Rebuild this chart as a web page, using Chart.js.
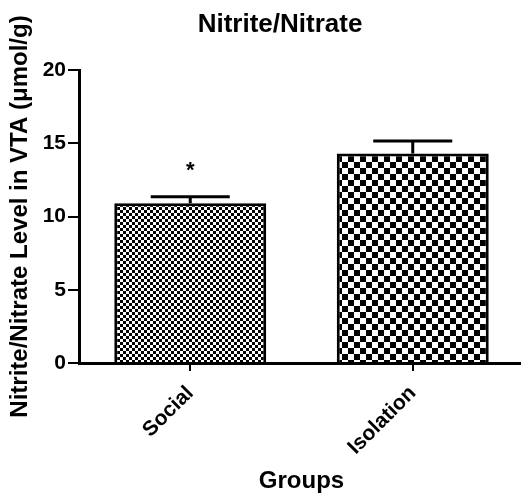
<!DOCTYPE html>
<html>
<head>
<meta charset="utf-8">
<script src="https://cdn.jsdelivr.net/npm/chart.js@4.4.1/dist/chart.umd.min.js"></script>
<style>
  html, body { margin: 0; padding: 0; background: #fff; overflow: hidden; }
  canvas { display: block; }
</style>
</head>
<body>
<canvas id="nitriteChart" width="524" height="496"></canvas>
<script>
// Values (mean + upper SEM)
const groups = ['Social', 'Isolation'];
const meanLevel = [10.9, 14.3];
const semLevel = [0.45, 0.85];
const significance = ['*', ''];
const yTicks = [0, 5, 10, 15, 20];

const FONT = '"Liberation Sans", Arial, Helvetica, sans-serif';

const canvas = document.getElementById('nitriteChart');
const ctx = canvas.getContext('2d');

// checkerboard fill, cell size in px
function checker(cell) {
    const tile = document.createElement('canvas');
    tile.width = tile.height = cell * 2;
    const g = tile.getContext('2d');
    g.fillStyle = '#fff';
    g.fillRect(0, 0, cell * 2, cell * 2);
    g.fillStyle = '#000';
    g.fillRect(0, 0, cell, cell);
    g.fillRect(cell, cell, cell, cell);
    return ctx.createPattern(tile, 'repeat');
}

// upper error bars + significance star
const errorBars = {
    id: 'errorBars',
    afterDatasetsDraw(chart) {
        const { ctx, scales: { y } } = chart;
        const meta = chart.getDatasetMeta(0);
        ctx.save();
        ctx.strokeStyle = '#000';
        ctx.fillStyle = '#000';
        ctx.lineWidth = 3;
        meta.data.forEach((bar, i) => {
            const base = y.getPixelForValue(meanLevel[i]);
            const top = y.getPixelForValue(meanLevel[i] + semLevel[i]);
            const half = bar.width * 0.26;
            ctx.beginPath();
            ctx.moveTo(bar.x, base);
            ctx.lineTo(bar.x, top);
            ctx.moveTo(bar.x - half, top);
            ctx.lineTo(bar.x + half, top);
            ctx.stroke();
            if (significance[i]) {
                ctx.font = `bold 22px ${FONT}`;
                ctx.textAlign = 'center';
                ctx.textBaseline = 'middle';
                ctx.fillText(significance[i], bar.x, top - 26);
            }
        });
        ctx.restore();
    }
};

// plot title
const plotTitle = {
    id: 'plotTitle',
    afterDraw(chart) {
        const c = chart.ctx;
        c.save();
        c.font = `bold 26px ${FONT}`;
        c.fillStyle = '#000';
        c.textAlign = 'center';
        c.textBaseline = 'middle';
        c.fillText('Nitrite/Nitrate', 280, 25);
        c.restore();
    }
};

const nitriteChart = new Chart(ctx, {
    type: 'bar',
    data: {
        labels: groups,
        datasets: [{
            data: meanLevel,
            backgroundColor: [checker(3), checker(6)],
            borderColor: '#000',
            borderWidth: 3,
            barPercentage: 0.683,
            categoryPercentage: 1
        }]
    },
    options: {
        responsive: false,
        animation: false,
        devicePixelRatio: 1,
        layout: { padding: { top: 70, right: 0, left: 0, bottom: 0 } },
        plugins: {
            legend: { display: false },
            tooltip: { enabled: false },
            title: { display: false }
        },
        scales: {
            x: {
                offset: true,
                grid: { offset: false, drawOnChartArea: false, color: '#000', lineWidth: 2, tickLength: 8 },
                border: { color: '#000', width: 3 },
                ticks: {
                    color: '#000',
                    font: { family: FONT, size: 21, weight: 'bold' },
                    minRotation: 45,
                    maxRotation: 45,
                    padding: 10
                },
                title: {
                    display: true,
                    text: 'Groups',
                    color: '#000',
                    font: { family: FONT, size: 24, weight: 'bold' },
                    padding: { top: 0, bottom: 0 }
                },
                afterFit(scale) { scale.height = 133; }
            },
            y: {
                min: 0,
                max: 20,
                grid: { drawOnChartArea: false, color: '#000', lineWidth: 2, tickLength: 11 },
                border: { color: '#000', width: 3 },
                ticks: {
                    color: '#000',
                    font: { family: FONT, size: 21, weight: 'bold' },
                    padding: 2
                },
                afterBuildTicks(scale) { scale.ticks = yTicks.map(v => ({ value: v })); },
                title: {
                    display: true,
                    text: 'Nitrite/Nitrate Level in VTA (\u03bcmol/g)',
                    color: '#000',
                    font: { family: FONT, size: 24, weight: 'bold' },
                    padding: { top: 6, bottom: 0 }
                },
                afterFit(scale) { scale.width = 79; }
            }
        }
    },
    plugins: [errorBars, plotTitle]
});
</script>
</body>
</html>
